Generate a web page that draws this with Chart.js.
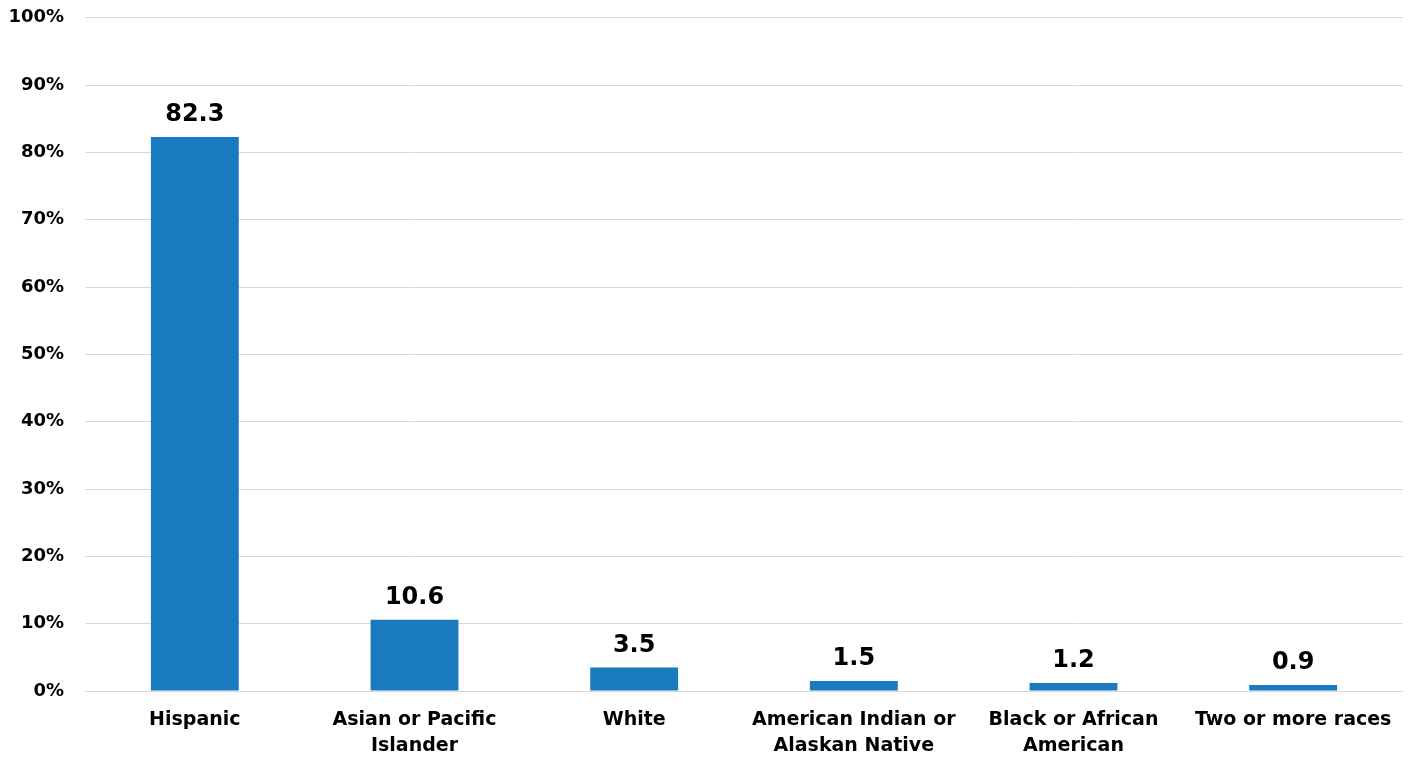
<!DOCTYPE html>
<html>
<head>
<meta charset="utf-8">
<script src="https://cdn.jsdelivr.net/npm/chart.js@4.4.1/dist/chart.umd.min.js"></script>
<style>
  html, body { margin: 0; padding: 0; background: #fff; }
  #wrap { width: 1408px; height: 757px; }
</style>
</head>
<body>
<div id="wrap"><canvas id="chart" width="1408" height="757"></canvas></div>
<script>
// Chart data
const categories = [
  'Hispanic',
  ['Asian or Pacific', 'Islander'],
  'White',
  ['American Indian or', 'Alaskan Native'],
  ['Black or African', 'American'],
  'Two or more races'
];
const shares = [82.3, 10.6, 3.5, 1.5, 1.2, 0.9];
const yTicks = [0, 10, 20, 30, 40, 50, 60, 70, 80, 90, 100];

const FONT = '"DejaVu Sans", "Open Sans", sans-serif';

// Draws the value above each bar
const valueLabels = {
  id: 'valueLabels',
  afterDatasetsDraw(chart) {
    const ctx = chart.ctx;
    const meta = chart.getDatasetMeta(0);
    ctx.save();
    ctx.fillStyle = '#000';
    ctx.font = 'bold 24px ' + FONT;
    ctx.textAlign = 'center';
    ctx.textBaseline = 'bottom';
    meta.data.forEach((bar, i) => {
      ctx.fillText(shares[i].toFixed(1), bar.x, bar.y - 10);
    });
    ctx.restore();
  }
};

new Chart(document.getElementById('chart'), {
  type: 'bar',
  data: {
    labels: categories,
    datasets: [{
      data: shares,
      backgroundColor: '#1a7abf',
      categoryPercentage: 0.4,
      barPercentage: 1
    }]
  },
  options: {
    responsive: false,
    animation: false,
    layout: { padding: { top: 0, right: 5, left: 0, bottom: 0 } },
    plugins: { legend: { display: false }, tooltip: { enabled: false } },
    scales: {
      x: {
        grid: { display: false },
        border: { display: false },
        ticks: {
          color: '#000',
          font: { family: FONT, size: 19, weight: 'bold', lineHeight: 1.37 },
          padding: 8,
          maxRotation: 0,
          autoSkip: false
        },
        afterFit: s => { s.height = 66; }
      },
      y: {
        min: 0,
        max: 100,
        afterBuildTicks: s => { s.ticks = yTicks.map(v => ({ value: v })); },
        grid: { color: '#d9d9d9', lineWidth: 1, drawTicks: true, tickLength: 14, tickColor: 'rgba(0,0,0,0)' },
        border: { display: false },
        ticks: {
          color: '#000',
          font: { family: FONT, size: 18, weight: 'bold' },
          padding: 7,
          callback: v => v + '%'
        },
        afterFit: s => { s.width = 85; }
      }
    }
  },
  plugins: [valueLabels]
});
</script>
</body>
</html>
